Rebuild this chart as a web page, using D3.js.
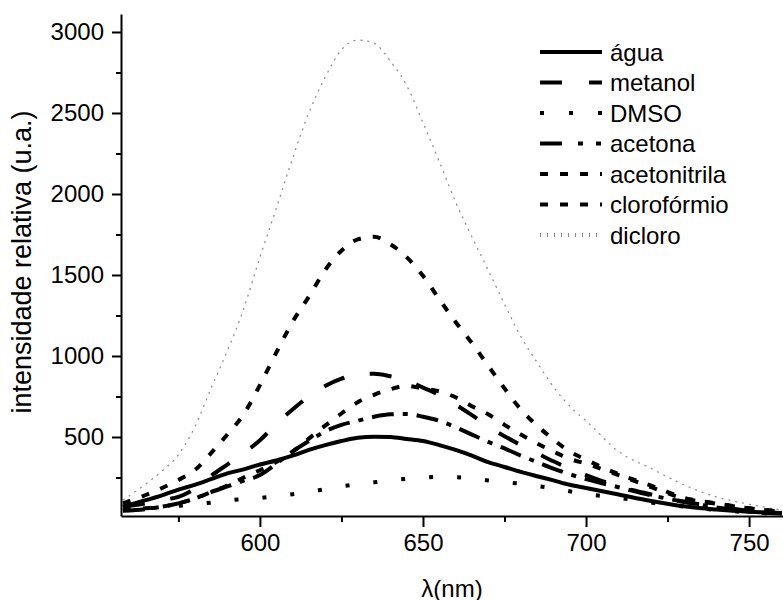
<!DOCTYPE html>
<html>
<head>
<meta charset="utf-8">
<script src="https://cdn.jsdelivr.net/npm/d3@7"></script>
<style>
  body { margin: 0; background: #fff; }
  text { font-family: Arial, "Liberation Sans", sans-serif; }
</style>
</head>
<body>
<div id="chart"></div>
<script>
// wavelengths (nm) shared by all curves
const wavelength = [558, 565, 570, 575, 580, 585, 590, 595, 600, 605, 610, 615, 620, 625, 630, 635, 640, 645, 650,
  655, 660, 665, 670, 675, 680, 685, 690, 695, 700, 710, 720, 730, 740, 750, 760];

const agua = [70, 110, 140, 175, 205, 240, 275, 300, 330, 355, 385, 420, 450, 475, 495, 502, 500, 488, 475,
  450, 420, 385, 345, 315, 285, 258, 232, 205, 185, 145, 105, 72, 52, 38, 30];
const metanol = [70, 90, 110, 130, 180, 260, 330, 400, 480, 580, 670, 750, 815, 860, 890, 890, 875, 850, 805,
  760, 700, 635, 565, 505, 450, 400, 350, 305, 265, 195, 145, 100, 70, 45, 30];
const dmso = [55, 60, 65, 75, 85, 95, 108, 116, 123, 135, 147, 160, 178, 195, 208, 220, 233, 242, 248,
  254, 252, 245, 232, 221, 212, 198, 183, 165, 148, 125, 95, 70, 50, 35, 25];
const acetona = [45, 55, 70, 90, 120, 160, 195, 230, 265, 335, 410, 475, 535, 575, 600, 625, 640, 642, 625,
  600, 560, 515, 470, 430, 385, 345, 305, 270, 240, 190, 140, 100, 65, 40, 28];
const acetonitrila = [50, 60, 70, 90, 120, 160, 200, 250, 295, 345, 410, 490, 570, 645, 715, 760, 795, 815, 800,
  782, 745, 690, 640, 575, 515, 460, 410, 365, 335, 265, 190, 121, 88, 60, 40];
const cloroformio = [90, 142, 185, 235, 295, 400, 515, 640, 820, 1020, 1210, 1366, 1530, 1650, 1720, 1736, 1690, 1610, 1495,
  1350, 1210, 1080, 940, 800, 670, 570, 485, 410, 360, 270, 200, 125, 90, 60, 40];
const dicloro = [110, 210, 290, 390, 560, 800, 1030, 1290, 1610, 1910, 2220, 2500, 2720, 2890, 2950, 2930, 2820, 2670, 2440,
  2200, 1950, 1736, 1530, 1320, 1120, 960, 810, 690, 600, 410, 305, 205, 130, 85, 49];

const seriesNames = ["água", "metanol", "DMSO", "acetona", "acetonitrila", "clorofórmio", "dicloro"];
const seriesValues = [agua, metanol, dmso, acetona, acetonitrila, cloroformio, dicloro];

const xMajorTicks = [600, 650, 700, 750];
const xMinorTicks = [575, 625, 675, 725];
const yMajorTicks = [500, 1000, 1500, 2000, 2500, 3000];
const yMinorTicks = [250, 750, 1250, 1750, 2250, 2750];

// line looks, same order as seriesNames
const lineStyles = [
  { color: "#000", width: 4, dash: null, legendDash: null },
  { color: "#000", width: 4, dash: "22,26", legendDash: "22,27" },
  { color: "#000", width: 4, dash: "4,24", legendDash: "4,25" },
  { color: "#000", width: 4, dash: "22,9,5,9", legendDash: "22,16,5,13,5,13" },
  { color: "#000", width: 4, dash: "8,12", legendDash: "8,12" },
  { color: "#000", width: 4, dash: "8,12", legendDash: "8,12" },
  { color: "#888", width: 1.2, dash: "2,5", legendDash: "1,6" }
];

const width = 783, height = 600;
const plotLeft = 121, plotRight = 783, plotTop = 14, plotBottom = 516;
const fontSize = "24px";

const svg = d3.select("#chart")
  .append("svg")
    .attr("width", width)
    .attr("height", height);

const x = d3.scaleLinear().domain([557.4, 760.4]).range([plotLeft, plotRight]);
const y = d3.scaleLinear().domain([12.3, 3111]).range([plotBottom, plotTop]);

svg.append("clipPath").attr("id", "plot")
  .append("rect")
    .attr("x", plotLeft).attr("y", plotTop)
    .attr("width", plotRight - plotLeft).attr("height", plotBottom - plotTop);

const line = d3.line()
  .x((d, i) => x(wavelength[i]))
  .y(d => y(d))
  .curve(d3.curveMonotoneX);

// draw dicloro first so the black curves sit on top
const drawOrder = [6, 0, 1, 2, 3, 4, 5];
svg.append("g")
    .attr("clip-path", "url(#plot)")
  .selectAll("path")
  .data(drawOrder)
  .enter()
  .append("path")
    .attr("d", k => line(seriesValues[k]))
    .attr("fill", "none")
    .attr("stroke", k => lineStyles[k].color)
    .attr("stroke-width", k => lineStyles[k].width)
    .attr("stroke-dasharray", k => lineStyles[k].dash);

// axes
svg.append("g")
  .attr("transform", `translate(0, ${plotBottom})`)
  .call(d3.axisBottom(x).tickValues(xMajorTicks).tickFormat(d3.format("d"))
    .tickSize(11).tickSizeOuter(0).tickPadding(7));
svg.append("g")
  .attr("transform", `translate(0, ${plotBottom})`)
  .call(d3.axisBottom(x).tickValues(xMinorTicks).tickSize(6).tickSizeOuter(0).tickFormat(""))
  .select(".domain").remove();

svg.append("g")
  .attr("transform", `translate(${plotLeft}, 0)`)
  .call(d3.axisLeft(y).tickValues(yMajorTicks).tickFormat(d3.format("d"))
    .tickSize(9).tickSizeOuter(0).tickPadding(8));
svg.append("g")
  .attr("transform", `translate(${plotLeft}, 0)`)
  .call(d3.axisLeft(y).tickValues(yMinorTicks).tickSize(5).tickSizeOuter(0).tickFormat(""))
  .select(".domain").remove();

svg.selectAll(".domain").attr("stroke", "#000").attr("stroke-width", 2);
svg.selectAll(".tick line").attr("stroke", "#000").attr("stroke-width", 2);
svg.selectAll(".tick text")
  .attr("fill", "#000")
  .style("font-size", fontSize)
  .style("font-family", "Arial, 'Liberation Sans', sans-serif");

// axis titles
svg.append("text")
  .attr("x", (plotLeft + plotRight) / 2)
  .attr("y", 588)
  .attr("text-anchor", "middle")
  .attr("dominant-baseline", "central")
  .style("font-size", fontSize)
  .text("λ(nm)");

svg.append("text")
  .attr("transform", "translate(22, 262) rotate(-90)")
  .attr("text-anchor", "middle")
  .attr("dominant-baseline", "central")
  .style("font-size", "27px")
  .text("intensidade relativa (u.a.)");

// legend
const legend = svg.append("g");
legend.selectAll("line")
  .data(seriesNames)
  .enter()
  .append("line")
    .attr("x1", 540)
    .attr("x2", 602)
    .attr("y1", (d, i) => 52 + 30.5 * i)
    .attr("y2", (d, i) => 52 + 30.5 * i)
    .attr("stroke", (d, i) => lineStyles[i].color)
    .attr("stroke-width", (d, i) => i === 6 ? 4 : lineStyles[i].width)
    .attr("stroke-dasharray", (d, i) => lineStyles[i].legendDash);

legend.selectAll("text")
  .data(seriesNames)
  .enter()
  .append("text")
    .attr("x", 610)
    .attr("y", (d, i) => 52 + 30.5 * i)
    .attr("dominant-baseline", "central")
    .style("font-size", fontSize)
    .text(d => d);
</script>
</body>
</html>
